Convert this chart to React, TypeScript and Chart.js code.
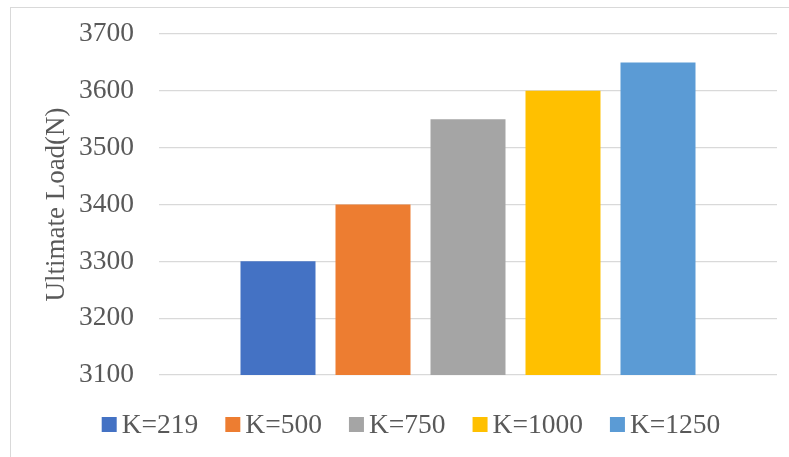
import React, { useEffect, useRef } from "react";
import { Chart, registerables } from "chart.js";

Chart.register(...registerables);

const seriesLabels = ["K=219", "K=500", "K=750", "K=1000", "K=1250"];
const seriesValues = [3300, 3400, 3550, 3600, 3650];
const seriesColors = ["#4472C4", "#ED7D31", "#A5A5A5", "#FFC000", "#5B9BD5"];
const categories = [""];
const yMin = 3100;
const yMax = 3700;
const yStep = 100;
const yTitle = "Ultimate Load(N)";

const FONT = "'Liberation Serif', 'Times New Roman', serif";
const TEXT = "#595959";

const borderPlugin = {
  id: "excelBorder",
  beforeDraw(chart: any) {
    const ctx = chart.ctx;
    ctx.save();
    ctx.fillStyle = "#ffffff";
    ctx.fillRect(0, 0, chart.width, chart.height);
    ctx.strokeStyle = "#d9d9d9";
    ctx.lineWidth = 1;
    ctx.strokeRect(10.5, 7.5, chart.width + 40, chart.height + 40);
    ctx.restore();
  },
};

const legendPlugin = {
  id: "excelLegend",
  afterDraw(chart: any) {
    const ctx = chart.ctx;
    const ds = chart.data.datasets;
    ctx.save();
    ctx.font = `27.5px ${FONT}`;
    const box = 15;
    const gap = 5;
    const spacing = 27;
    const widths = ds.map((d: any) => ctx.measureText(d.label).width);
    const total =
      widths.reduce((a: number, w: number) => a + box + gap + w, 0) +
      spacing * (ds.length - 1);
    const centerX = 411;
    const cy = 424.5;
    let x = centerX - total / 2;
    ds.forEach((d: any, i: number) => {
      ctx.fillStyle = d.backgroundColor;
      ctx.fillRect(x, cy - box / 2, box, box);
      x += box + gap;
      ctx.fillStyle = TEXT;
      ctx.textBaseline = "middle";
      ctx.textAlign = "left";
      ctx.fillText(d.label, x, cy + 1);
      x += widths[i] + spacing;
    });
    ctx.restore();
  },
};

export default function App() {
  const ref = useRef<HTMLCanvasElement | null>(null);

  useEffect(() => {
    if (!ref.current) return;
    const chart = new Chart(ref.current, {
      type: "bar",
      data: {
        labels: categories,
        datasets: seriesLabels.map((label, i) => ({
          label,
          data: [seriesValues[i]],
          backgroundColor: seriesColors[i],
          borderWidth: 0,
          categoryPercentage: 0.7686,
          barPercentage: 0.7895,
        })),
      },
      options: {
        animation: false,
        responsive: false,
        maintainAspectRatio: false,
        layout: { padding: { left: 0, top: 34, right: 12, bottom: 82 } },
        plugins: {
          legend: { display: false },
          tooltip: { enabled: false },
        },
        scales: {
          x: { display: false },
          y: {
            min: yMin,
            max: yMax,
            afterFit(scale: any) {
              scale.width = 159;
              scale.paddingTop = 0;
              scale.paddingBottom = 0;
            },
            ticks: {
              stepSize: yStep,
              padding: 25,
              color: TEXT,
              font: { family: FONT, size: 27.5 },
              callback: (v: any) => String(v),
            },
            grid: {
              color: "#d9d9d9",
              lineWidth: 1.3,
              drawTicks: false,
            },
            border: { display: false },
            title: {
              display: true,
              text: yTitle,
              color: TEXT,
              font: { family: FONT, size: 27 },
              padding: { top: 41, bottom: 0 },
            },
          },
        },
      },
      plugins: [borderPlugin, legendPlugin],
    });
    return () => chart.destroy();
  }, []);

  return (
    <div style={{ position: "fixed", left: 0, top: 0, width: 789, height: 457, background: "#fff" }}>
      <canvas ref={ref} width={789} height={457} style={{ width: 789, height: 457, display: "block" }} />
    </div>
  );
}
